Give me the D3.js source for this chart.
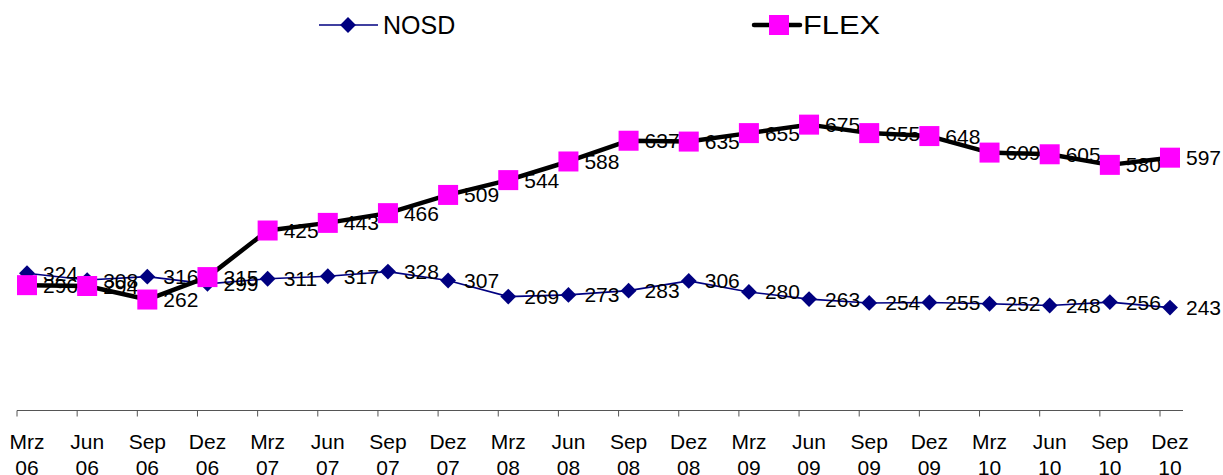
<!DOCTYPE html>
<html>
<head>
<meta charset="utf-8">
<script src="https://cdn.jsdelivr.net/npm/d3@7"></script>
<style>
  html, body { margin: 0; padding: 0; background: #fff; }
  svg { display: block; font-family: "Liberation Sans", Arial, sans-serif; }
</style>
</head>
<body>
<svg id="chart" width="1223" height="475"></svg>
<script>
// Quarterly categories (German month abbreviations + year)
const months = ["Mrz","Jun","Sep","Dez","Mrz","Jun","Sep","Dez","Mrz","Jun","Sep","Dez","Mrz","Jun","Sep","Dez","Mrz","Jun","Sep","Dez"];
const years  = ["06","06","06","06","07","07","07","07","08","08","08","08","09","09","09","09","10","10","10","10"];
const categories = months.map((m, i) => m + " " + years[i]);

// Series values
const nosd = [324,308,316,299,311,317,328,307,269,273,283,306,280,263,254,255,252,248,256,243];
const flex = [296,294,262,315,425,443,466,509,544,588,637,635,655,675,655,648,609,605,580,597];

const seriesNames = ["NOSD", "FLEX"];

const svg = d3.select("#chart");

const x = d3.scalePoint().domain(categories).range([27, 1170]);
const y = d3.scaleLinear().domain([0, 800]).range([410.5, 71.7]);

// Category axis: baseline, ticks and two-line labels
const axisY = 410.5;
const axisG = svg.append("g");
axisG.append("line")
  .attr("x1", x(categories[0]) - 10).attr("x2", 1183)
  .attr("y1", axisY).attr("y2", axisY)
  .attr("stroke", "#555").attr("stroke-width", 1);
axisG.selectAll("line.tick").data(categories).join("line")
  .attr("class", "tick")
  .attr("x1", d => x(d) - 10).attr("x2", d => x(d) - 10)
  .attr("y1", axisY).attr("y2", axisY + 6)
  .attr("stroke", "#555").attr("stroke-width", 1);
const tl = axisG.selectAll("text.cat").data(categories).join("text")
  .attr("class", "cat")
  .attr("text-anchor", "middle")
  .attr("font-size", 21)
  .attr("fill", "#000");
tl.append("tspan").attr("x", d => x(d)).attr("y", 449).text((d, i) => months[i]);
tl.append("tspan").attr("x", d => x(d)).attr("y", 475).text((d, i) => years[i]);

const line = d3.line().x((d, i) => x(categories[i])).y(d => y(d));

// Lines
svg.append("path").datum(nosd).attr("d", line)
  .attr("fill", "none").attr("stroke", "#000080").attr("stroke-width", 1.6);
svg.append("path").datum(flex).attr("d", line)
  .attr("fill", "none").attr("stroke", "#000").attr("stroke-width", 4.5)
  .attr("stroke-linejoin", "round");

// NOSD markers (diamonds)
const diamond = d3.symbol().type(d3.symbolDiamond2).size(160);
svg.selectAll("path.nosd").data(nosd).join("path")
  .attr("class", "nosd")
  .attr("d", diamond)
  .attr("transform", (d, i) => `translate(${x(categories[i])},${y(d)})`)
  .attr("fill", "#000080");

// Data labels
const labelFont = 21;
svg.selectAll("text.lnosd").data(nosd).join("text")
  .attr("class", "lnosd")
  .attr("x", (d, i) => x(categories[i]) + 16)
  .attr("y", d => y(d)).attr("dy", "0.36em")
  .attr("font-size", labelFont).text(d => d);
svg.selectAll("text.lflex").data(flex).join("text")
  .attr("class", "lflex")
  .attr("x", (d, i) => x(categories[i]) + 16)
  .attr("y", d => y(d)).attr("dy", "0.36em")
  .attr("font-size", labelFont).text(d => d);

// FLEX markers (squares)
const sq = 20;
svg.selectAll("rect.flex").data(flex).join("rect")
  .attr("class", "flex")
  .attr("x", (d, i) => x(categories[i]) - sq / 2)
  .attr("y", d => y(d) - sq / 2)
  .attr("width", sq).attr("height", sq)
  .attr("fill", "#ff00ff");

// Legend
const lg = svg.append("g");
const legY = 25;
lg.append("line").attr("x1", 319).attr("x2", 378).attr("y1", legY).attr("y2", legY)
  .attr("stroke", "#000080").attr("stroke-width", 1.6);
lg.append("path").attr("d", diamond)
  .attr("transform", `translate(348,${legY})`).attr("fill", "#000080");
lg.append("text").attr("x", 383).attr("y", legY).attr("dy", "0.36em")
  .attr("font-size", 25).text(seriesNames[0]);

lg.append("line").attr("x1", 754).attr("x2", 800).attr("y1", legY).attr("y2", legY)
  .attr("stroke", "#000").attr("stroke-width", 4.5).attr("stroke-linecap", "round");
lg.append("rect").attr("x", 779 - sq / 2).attr("y", legY - sq / 2)
  .attr("width", sq).attr("height", sq).attr("fill", "#ff00ff");
lg.append("text").attr("x", 803).attr("y", legY).attr("dy", "0.36em")
  .attr("font-size", 25).attr("textLength", 77).attr("lengthAdjust", "spacingAndGlyphs")
  .text(seriesNames[1]);
</script>
</body>
</html>
